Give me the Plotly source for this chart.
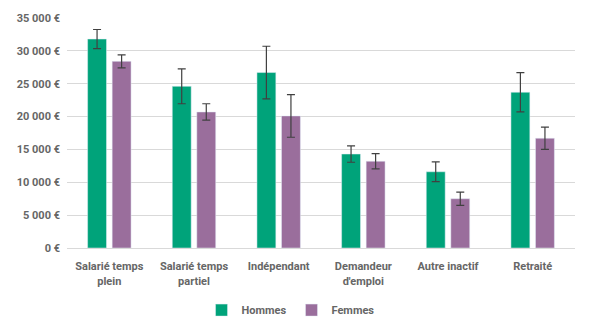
import plotly.graph_objects as go

# Revenu moyen par statut d'activité et par sexe, avec intervalles de confiance
categories = ["Salarié temps<br>plein", "Salarié temps<br>partiel", "Indépendant",
              "Demandeur<br>d'emploi", "Autre inactif", "Retraité"]
hommes = [31800, 24600, 26700, 14300, 11600, 23700]
hommes_err = [1450, 2650, 4000, 1250, 1500, 3000]
femmes = [28400, 20700, 20100, 13200, 7500, 16700]
femmes_err = [1000, 1250, 3250, 1150, 1000, 1700]

FONT = "Roboto, sans-serif"
TEXT = "#666666"
ERR = dict(type="data", visible=True, color="#404040", thickness=1.2, width=4)

fig = go.Figure()
fig.add_trace(go.Bar(name="Hommes", x=categories, y=hommes, marker_color="#00A37A",
                     error_y=dict(array=hommes_err, **ERR)))
fig.add_trace(go.Bar(name="Femmes", x=categories, y=femmes, marker_color="#9A6E9C",
                     error_y=dict(array=femmes_err, **ERR)))

fig.update_layout(
    width=600, height=336,
    margin=dict(l=67, r=25, t=15, b=88),
    paper_bgcolor="white", plot_bgcolor="white",
    barmode="group", bargap=0.42, bargroupgap=0.23,
    separators=", ",
    font=dict(family=FONT, size=11, color=TEXT, weight="bold"),
    showlegend=True,
    legend=dict(orientation="h", x=0.44, xanchor="center", y=-0.27, yanchor="middle",
                font=dict(family=FONT, size=11, color=TEXT, weight="bold"),
                itemwidth=30, traceorder="normal"),
)
fig.update_yaxes(range=[0, 35000], dtick=5000, tickformat=",d", ticksuffix=" €",
                 showgrid=True, gridcolor="#d9d9d9", gridwidth=1, zeroline=False,
                 showline=False, ticks="", ticklabelstandoff=6,
                 tickfont=dict(family=FONT, size=11, color=TEXT, weight="bold"),
                 fixedrange=True)
fig.update_xaxes(showline=True, linecolor="#d9d9d9", linewidth=1, ticks="",
                 ticklabelstandoff=8,
                 tickfont=dict(family=FONT, size=11, color=TEXT, weight="bold"),
                 fixedrange=True)

fig.write_html("out.html")
